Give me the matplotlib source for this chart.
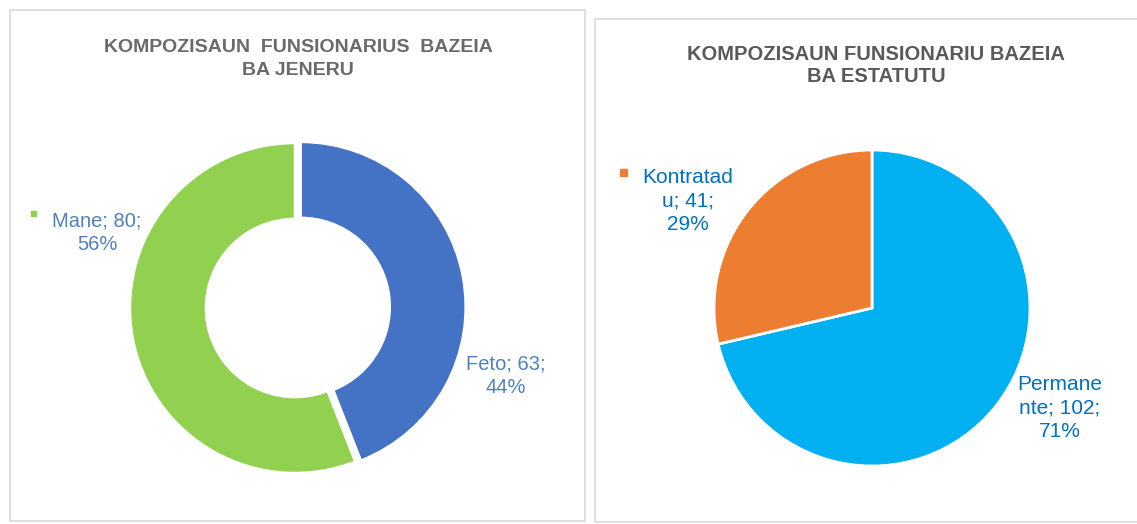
import matplotlib
matplotlib.use("Agg")
import matplotlib.pyplot as plt
from matplotlib.patches import Rectangle

# gender chart
gender_labels = ["Feto", "Mane"]
gender_values = [63, 80]
gender_colors = ["#4472C4", "#92D050"]

# status chart
status_labels = ["Permanente", "Kontratadu"]
status_values = [102, 41]
status_colors = ["#00B0F0", "#ED7D31"]
# Excel wraps the data labels inside a narrow box
status_label_breaks = {"Permanente": "Permane\nnte", "Kontratadu": "Kontratad\nu"}

title_left = "KOMPOZISAUN  FUNSIONARIUS  BAZEIA\nBA JENERU"
title_right = "KOMPOZISAUN FUNSIONARIU BAZEIA\nBA ESTATUTU"

W, H = 1137, 524
plt.rcParams["font.family"] = ["Liberation Sans", "DejaVu Sans"]
fig = plt.figure(figsize=(W / 100, H / 100), dpi=100)
fig.patch.set_facecolor("white")


def px(x, y):
    return x / W, 1 - y / H


def pie_axes(cx, cy, r, lim=1.25):
    s = 2 * lim * r
    ax = fig.add_axes([(cx - s / 2) / W, 1 - (cy + s / 2) / H, s / W, s / H])
    ax.set_xlim(-lim, lim)
    ax.set_ylim(-lim, lim)
    ax.set_aspect("equal")
    ax.axis("off")
    return ax


def pct_text(vals):
    tot = sum(vals)
    return [round(v / tot * 100) for v in vals]


# panel borders
fig.patches.append(Rectangle(px(10, 521), 575 / W, 511 / H, transform=fig.transFigure,
                             fill=False, edgecolor="#D9D9D9", lw=1.2))
fig.patches.append(Rectangle(px(594.5, 522), 560 / W, 503 / H, transform=fig.transFigure,
                             fill=False, edgecolor="#D9D9D9", lw=1.2))

# left: donut
ax1 = pie_axes(295, 308, 165)
ax1.pie(gender_values, colors=gender_colors, startangle=90, counterclock=False,
        explode=[0.035, 0], radius=1,
        wedgeprops=dict(width=0.46, edgecolor="white", linewidth=1.8))
fig.text(*px(298, 59), title_left, ha="center", va="center", fontsize=14,
         fontweight="bold", color="#6A6A6A", linespacing=1.5)

p1 = pct_text(gender_values)
lab_pos1 = {"Feto": (506, 376), "Mane": (97, 233)}
for name, v, p in zip(gender_labels, gender_values, p1):
    fig.text(*px(*lab_pos1[name]), f"{name}; {v};\n{p}%", ha="center", va="center",
             fontsize=14.5, color="#4F81BD", linespacing=1.3)
fig.patches.append(Rectangle(px(31, 216), 5 / W, 5 / H, transform=fig.transFigure,
                             color=gender_colors[1]))

# right: pie
ax2 = pie_axes(872, 308, 158)
ax2.pie(status_values, colors=status_colors, startangle=90, counterclock=False,
        radius=1, wedgeprops=dict(edgecolor="white", linewidth=2))
fig.text(*px(876, 66), title_right, ha="center", va="center", fontsize=14.5,
         fontweight="bold", color="#595959", linespacing=1.2)

p2 = pct_text(status_values)
lab_pos2 = {"Permanente": (1060, 408), "Kontratadu": (688, 201)}
for name, v, p in zip(status_labels, status_values, p2):
    head, tail = status_label_breaks[name].split("\n")
    fig.text(*px(*lab_pos2[name]), f"{head}\n{tail}; {v};\n{p}%", ha="center",
             va="center", fontsize=15, color="#0070C0", linespacing=1.3)
fig.patches.append(Rectangle(px(620, 176), 7 / W, 7 / H, transform=fig.transFigure,
                             color=status_colors[1]))

fig.savefig("out.png", dpi=100)
